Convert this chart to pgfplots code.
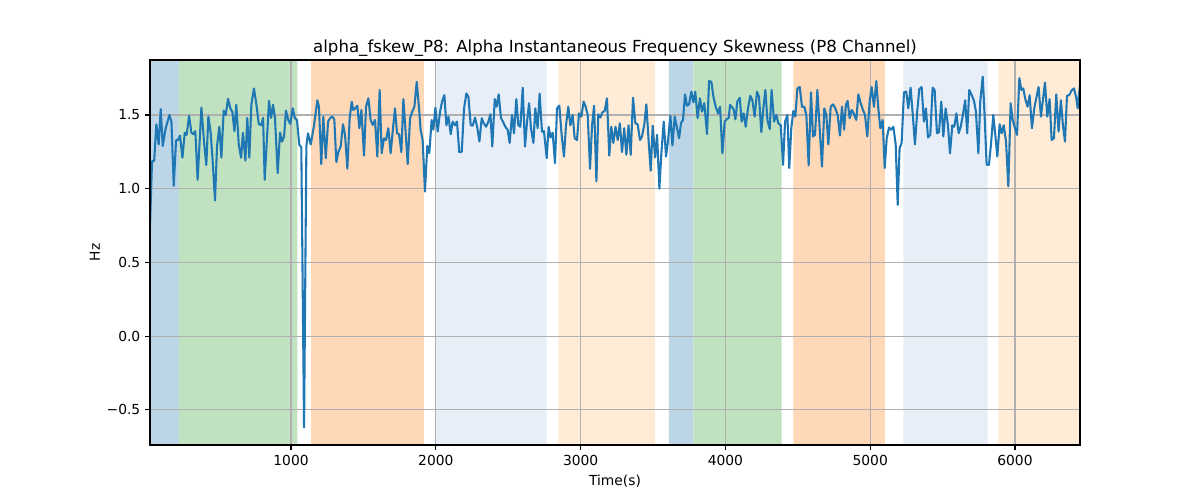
\documentclass[border=0pt]{standalone}
\usepackage{fontspec}
\setmainfont{DejaVu Sans}
\usepackage{pgfplots}
\pgfplotsset{compat=1.18}
\definecolor{tabblue}{HTML}{1F77B4}
\definecolor{spanblue}{RGB}{188,214,232}
\definecolor{spangreen}{RGB}{192,226,192}
\definecolor{spanorange}{RGB}{255,217,183}
\definecolor{spanlblue}{RGB}{231,238,248}
\definecolor{spanlorange}{RGB}{255,235,214}
\definecolor{gridgray}{HTML}{B0B0B0}
\begin{document}
\begin{tikzpicture}
\path[use as bounding box] (0,0) rectangle (12in,5in);
\begin{axis}[
  at={(1.5in,0.55in)}, anchor=south west,
  scale only axis, width=9.3in, height=3.85in,
  xmin=26, xmax=6449, ymin=-0.739, ymax=1.873,
  axis on top,
  axis line style={black, line width=0.8pt},
  xtick={1000,2000,3000,4000,5000,6000},
  xticklabels={1000,2000,3000,4000,5000,6000},
  ytick={-0.5,0,0.5,1,1.5},
  yticklabels={−0.5,0.0,0.5,1.0,1.5},
  tick align=outside, major tick length=3.5pt,
  tick style={black, line width=0.8pt},
  tick pos=left,
  ticklabel style={font=\fontsize{10}{12}\selectfont},
  title={alpha\_fskew\_P8: Alpha Instantaneous Frequency Skewness (P8 Channel)},
  title style={font=\fontsize{12}{14}\selectfont, at={(0.5,1)}, anchor=south, yshift=-3.4pt, inner sep=0pt},
  xlabel={Time(s)}, ylabel={Hz},
  label style={font=\fontsize{10}{12}\selectfont},
  ylabel style={yshift=-2pt},
]
\addplot[draw=none, fill=spanblue] coordinates {(26,-0.739) (226,-0.739) (226,1.873) (26,1.873) (26,-0.739)};
\addplot[draw=none, fill=spangreen] coordinates {(226,-0.739) (1043,-0.739) (1043,1.873) (226,1.873) (226,-0.739)};
\addplot[draw=none, fill=spanorange] coordinates {(1138,-0.739) (1918,-0.739) (1918,1.873) (1138,1.873) (1138,-0.739)};
\addplot[draw=none, fill=spanlblue] coordinates {(1994,-0.739) (2766,-0.739) (2766,1.873) (1994,1.873) (1994,-0.739)};
\addplot[draw=none, fill=spanlorange] coordinates {(2846,-0.739) (3514,-0.739) (3514,1.873) (2846,1.873) (2846,-0.739)};
\addplot[draw=none, fill=spanblue] coordinates {(3610,-0.739) (3779,-0.739) (3779,1.873) (3610,1.873) (3610,-0.739)};
\addplot[draw=none, fill=spangreen] coordinates {(3779,-0.739) (4389,-0.739) (4389,1.873) (3779,1.873) (3779,-0.739)};
\addplot[draw=none, fill=spanorange] coordinates {(4469,-0.739) (5102,-0.739) (5102,1.873) (4469,1.873) (4469,-0.739)};
\addplot[draw=none, fill=spanlblue] coordinates {(5229,-0.739) (5811,-0.739) (5811,1.873) (5229,1.873) (5229,-0.739)};
\addplot[draw=none, fill=spanlorange] coordinates {(5885,-0.739) (6449,-0.739) (6449,1.873) (5885,1.873) (5885,-0.739)};
\addplot[gridgray, line width=0.8pt] coordinates {(1000,-0.739) (1000,1.873)};
\addplot[gridgray, line width=0.8pt] coordinates {(2000,-0.739) (2000,1.873)};
\addplot[gridgray, line width=0.8pt] coordinates {(3000,-0.739) (3000,1.873)};
\addplot[gridgray, line width=0.8pt] coordinates {(4000,-0.739) (4000,1.873)};
\addplot[gridgray, line width=0.8pt] coordinates {(5000,-0.739) (5000,1.873)};
\addplot[gridgray, line width=0.8pt] coordinates {(6000,-0.739) (6000,1.873)};
\addplot[gridgray, line width=0.8pt] coordinates {(26,-0.5) (6449,-0.5)};
\addplot[gridgray, line width=0.8pt] coordinates {(26,0) (6449,0)};
\addplot[gridgray, line width=0.8pt] coordinates {(26,0.5) (6449,0.5)};
\addplot[gridgray, line width=0.8pt] coordinates {(26,1) (6449,1)};
\addplot[gridgray, line width=0.8pt] coordinates {(26,1.5) (6449,1.5)};
\addplot[tabblue, line width=1.5pt, mark=none, line join=round] coordinates {
(26,0.75) (40,1.185) (55,1.19) (70,1.437) (86,1.30) (100,1.54) (114,1.29) (132,1.40) (146,1.45) (160,1.50)
(174,1.455) (190,1.02) (206,1.33) (220,1.33) (233,1.36) (250,1.21) (266,1.38) (279,1.365) (296,1.495) (312,1.38)
(325,1.37) (339,1.39) (355,1.06) (381,1.55) (399,1.32) (415,1.16) (429,1.49) (445,1.38) (459,1.185) (475,0.92)
(489,1.29) (505,1.42) (519,1.21) (535,1.53) (549,1.50) (565,1.61) (581,1.545) (595,1.52) (609,1.39) (622,1.57)
(639,1.30) (655,1.21) (668,1.38) (685,1.19) (698,1.48) (712,1.21) (726,1.57) (744,1.68) (761,1.57) (777,1.44)
(795,1.43) (807,1.48) (818,1.06) (848,1.595) (862,1.48) (876,1.57) (889,1.48) (908,1.105) (924,1.38) (938,1.32)
(952,1.355) (965,1.53) (981,1.465) (995,1.44) (1012,1.545) (1026,1.48) (1041,1.465) (1057,1.30) (1071,1.28) (1090,-0.62)
(1106,1.29) (1117,1.375) (1136,1.30) (1159,1.43) (1182,1.60) (1193,1.556) (1209,1.167) (1223,1.489) (1240,1.207) (1256,1.455)
(1269,1.478) (1285,1.489) (1299,1.47) (1313,1.18) (1327,1.25) (1343,1.286) (1359,1.437) (1373,1.365) (1389,1.135) (1405,1.478)
(1419,1.59) (1430,1.534) (1444,1.545) (1458,1.563) (1472,1.41) (1486,1.534) (1504,1.225) (1518,1.556) (1534,1.613) (1550,1.466)
(1564,1.432) (1580,1.466) (1596,1.218) (1612,1.67) (1626,1.24) (1642,1.342) (1656,1.33) (1672,1.41) (1688,1.24) (1702,1.387)
(1718,1.545) (1732,1.376) (1746,1.37) (1762,1.248) (1776,1.608) (1792,1.376) (1806,1.167) (1822,1.478) (1836,1.52) (1852,1.556)
(1868,1.725) (1884,1.545) (1895,1.40) (1909,1.33) (1925,0.98) (1941,1.29) (1955,1.24) (1971,1.466) (1983,1.40) (1997,1.55)
(2013,1.387) (2029,1.52) (2043,1.59) (2059,1.635) (2073,1.43) (2087,1.489) (2103,1.37) (2116,1.455) (2133,1.43) (2146,1.455)
(2162,1.248) (2179,1.25) (2195,1.545) (2211,1.646) (2225,1.624) (2241,1.43) (2255,1.428) (2271,1.482) (2287,1.41) (2301,1.32)
(2317,1.478) (2331,1.444) (2347,1.42) (2363,1.455) (2377,1.505) (2390,1.286) (2407,1.608) (2420,1.556) (2434,1.64) (2450,1.48)
(2466,1.45) (2480,1.42) (2496,1.40) (2510,1.31) (2526,1.50) (2540,1.376) (2556,1.608) (2570,1.43) (2584,1.42) (2600,1.685)
(2616,1.286) (2630,1.455) (2644,1.58) (2657,1.41) (2674,1.31) (2687,1.545) (2703,1.41) (2717,1.646) (2733,1.387) (2747,1.39)
(2766,1.207) (2779,1.42) (2793,1.347) (2807,1.38) (2823,1.173) (2837,1.545) (2853,1.563) (2869,1.365) (2885,1.218) (2899,1.43)
(2915,1.556) (2929,1.43) (2945,1.50) (2959,1.342) (2975,1.33) (2989,1.511) (3005,1.489) (3021,1.59) (3035,1.556) (3049,1.50)
(3065,1.135) (3079,1.43) (3093,1.563) (3109,1.05) (3122,1.505) (3136,1.482) (3150,1.518) (3166,1.527) (3182,1.613) (3198,1.225)
(3212,1.42) (3226,1.31) (3241,1.42) (3256,1.33) (3271,1.444) (3286,1.248) (3301,1.41) (3316,1.23) (3331,1.43) (3346,1.23)
(3362,1.617) (3378,1.444) (3394,1.437) (3410,1.33) (3424,1.354) (3440,1.437) (3454,1.572) (3470,1.32) (3484,1.122) (3498,1.428)
(3514,1.212) (3528,1.365) (3544,1.00) (3557,1.23) (3574,1.455) (3590,1.218) (3604,1.33) (3620,1.495) (3634,1.293) (3650,1.489)
(3666,1.41) (3680,1.342) (3693,1.444) (3707,1.466) (3721,1.64) (3735,1.563) (3749,1.572) (3765,1.658) (3779,1.586) (3792,1.658)
(3808,1.478) (3824,1.613) (3838,1.523) (3854,1.58) (3873,1.37) (3887,1.73) (3903,1.725) (3917,1.624) (3933,1.556) (3949,1.511)
(3963,1.556) (3979,1.24) (3995,1.455) (4011,1.473) (4023,1.48) (4032,1.568) (4043,1.556) (4057,1.538) (4069,1.47) (4082,1.59)
(4099,1.617) (4112,1.455) (4126,1.511) (4140,1.42) (4156,1.545) (4172,1.63) (4186,1.60) (4202,1.489) (4218,1.658) (4232,1.624)
(4248,1.383) (4262,1.545) (4276,1.67) (4290,1.466) (4306,1.405) (4319,1.67) (4336,1.455) (4352,1.50) (4365,1.444) (4382,1.43)
(4398,1.162) (4412,1.455) (4428,1.50) (4441,1.14) (4455,1.41) (4469,1.527) (4483,1.489) (4497,1.68) (4513,1.69) (4529,1.556)
(4545,1.556) (4559,1.50) (4575,1.158) (4591,1.653) (4605,1.354) (4619,1.365) (4635,1.67) (4651,1.41) (4667,1.15) (4683,1.545)
(4697,1.50) (4711,1.30) (4727,1.556) (4743,1.572) (4759,1.545) (4775,1.50) (4791,1.36) (4805,1.556) (4820,1.40) (4832,1.568)
(4844,1.595) (4858,1.478) (4872,1.534) (4886,1.511) (4904,1.466) (4918,1.64) (4934,1.58) (4950,1.534) (4964,1.50) (4980,1.354)
(4996,1.59) (5010,1.69) (5026,1.556) (5042,1.73) (5056,1.545) (5070,1.41) (5086,1.466) (5100,1.14) (5114,1.342) (5130,1.415)
(5144,1.40) (5160,1.42) (5176,1.30) (5190,0.89) (5203,1.275) (5217,1.31) (5233,1.653) (5249,1.658) (5263,1.545) (5279,1.685)
(5295,1.489) (5309,1.30) (5325,1.527) (5339,1.675) (5355,1.69) (5371,1.455) (5385,1.545) (5399,1.347) (5415,1.365) (5431,1.685)
(5445,1.67) (5461,1.376) (5475,1.383) (5491,1.59) (5505,1.354) (5521,1.545) (5537,1.43) (5551,1.24) (5567,1.43) (5581,1.42)
(5595,1.511) (5611,1.376) (5625,1.42) (5640,1.50) (5656,1.60) (5670,1.376) (5684,1.67) (5701,1.635) (5717,1.595) (5730,1.523)
(5747,1.24) (5760,1.59) (5777,1.76) (5790,1.50) (5804,1.162) (5820,1.162) (5834,1.30) (5850,1.50) (5864,1.365) (5878,1.218)
(5894,1.437) (5908,1.376) (5922,1.43) (5938,1.32) (5954,1.016) (5970,1.58) (5984,1.466) (6000,1.41) (6014,1.365) (6030,1.75)
(6044,1.67) (6057,1.68) (6071,1.608) (6087,1.556) (6101,1.635) (6117,1.41) (6133,1.545) (6149,1.624) (6163,1.69) (6179,1.489)
(6193,1.60) (6207,1.72) (6223,1.489) (6239,1.608) (6253,1.33) (6269,1.342) (6285,1.64) (6301,1.387) (6317,1.60) (6331,1.43)
(6345,1.32) (6359,1.63) (6375,1.635) (6391,1.667) (6407,1.68) (6423,1.617) (6433,1.545) (6449,1.70)
};
\end{axis}
\end{tikzpicture}
\end{document}
